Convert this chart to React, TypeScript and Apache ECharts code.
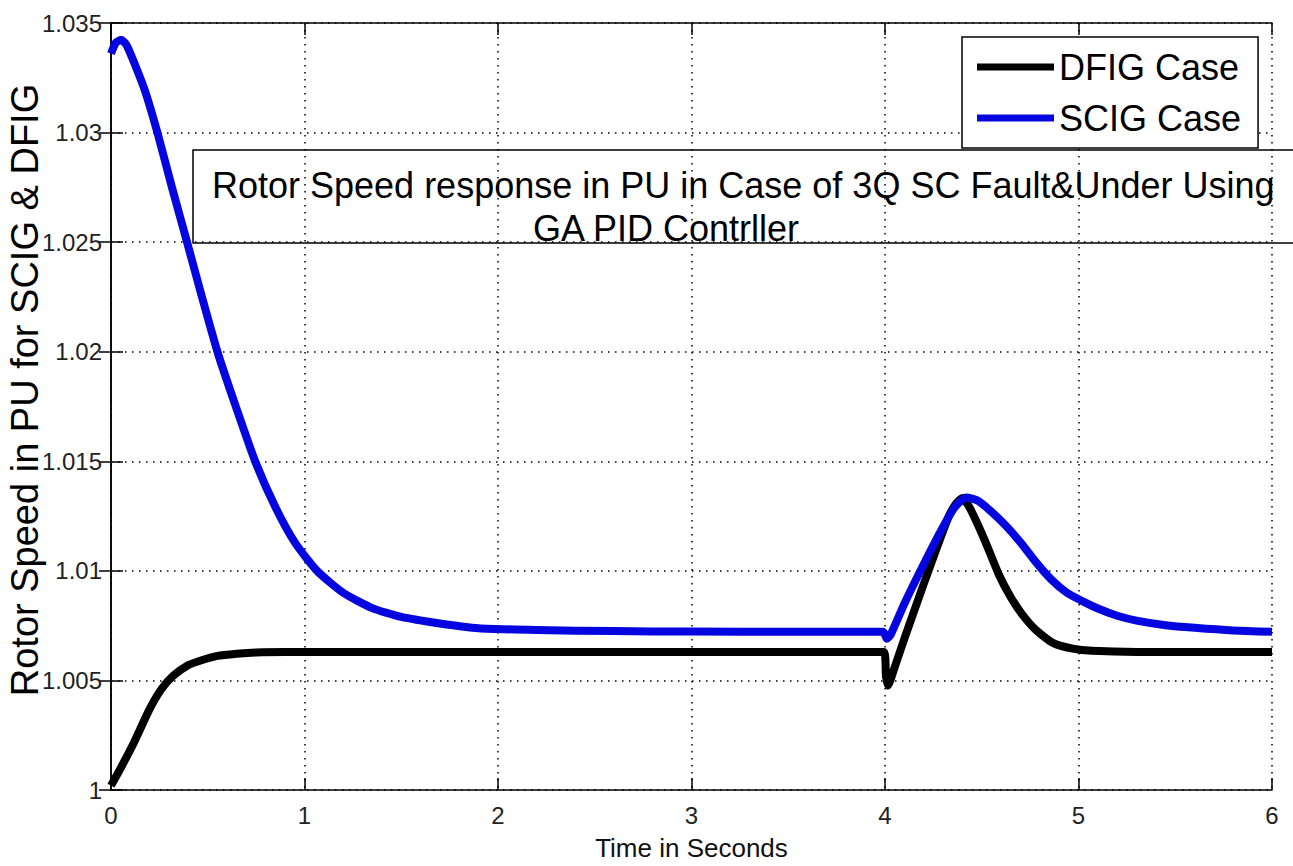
import React, { useEffect, useRef } from "react";
import * as echarts from "echarts";

const FONT = "'Liberation Sans', Arial, Helvetica, sans-serif";

const seriesNames = ["DFIG Case", "SCIG Case"];
const titleLines = [
  "Rotor Speed response in PU in Case of 3Q SC Fault&Under Using",
  "GA PID Contrller",
];
const yAxisTitle = "Rotor Speed in PU for SCIG & DFIG";
const xAxisTitle = "Time in Seconds";

const xMin = 0;
const xMax = 6;
const xStep = 1;
const yMin = 1;
const yMax = 1.035;
const yStep = 0.005;

const dfigTime = [
  0, 0.05, 0.115, 0.2, 0.26, 0.32, 0.4, 0.46, 0.55, 0.65, 0.75, 0.9, 1.2, 2, 3,
  3.995, 4.005, 4.015, 4.05, 4.1, 4.2, 4.27, 4.33, 4.37, 4.4, 4.43, 4.47, 4.52,
  4.59, 4.65, 4.71, 4.78, 4.87, 4.97, 5.07, 5.3, 5.6, 6.0,
];
const dfigSpeed = [
  1.0002, 1.001, 1.0021, 1.0037, 1.0046, 1.0052, 1.0057, 1.0059, 1.00612,
  1.00622, 1.00628, 1.0063, 1.0063, 1.0063, 1.0063, 1.0063, 1.0052, 1.00476,
  1.0056, 1.0069, 1.0094, 1.0111, 1.0125, 1.0131, 1.01332, 1.013, 1.0123,
  1.0113, 1.0098, 1.0088, 1.008, 1.0073, 1.0067, 1.00645, 1.00635, 1.0063,
  1.0063, 1.0063,
];

const scigTime = [
  0, 0.025, 0.052, 0.08, 0.124, 0.176, 0.24, 0.315, 0.393, 0.47, 0.55, 0.645,
  0.745, 0.85, 0.95, 1.065, 1.2, 1.35, 1.5, 1.7, 1.9, 2.2, 2.6, 3.0, 3.5, 3.99,
  4.01, 4.03, 4.1, 4.2, 4.3, 4.36, 4.42, 4.48, 4.55, 4.62, 4.7, 4.78, 4.86,
  4.94, 5.02, 5.1, 5.2, 5.3, 5.45, 5.6, 5.8, 6.0,
];
const scigSpeed = [
  1.0336, 1.0341, 1.03423, 1.034, 1.0331, 1.0319, 1.03, 1.0275, 1.025, 1.0225,
  1.02, 1.0175, 1.015, 1.0129, 1.0113, 1.01, 1.009, 1.0083, 1.0079, 1.0076,
  1.00738, 1.0073, 1.00725, 1.00723, 1.00722, 1.00722, 1.0069, 1.0071, 1.0085,
  1.0103, 1.012, 1.0129, 1.01335, 1.0132, 1.0127, 1.0121, 1.0113, 1.0104,
  1.0096, 1.009, 1.00862, 1.00828, 1.00795, 1.00773, 1.00752, 1.0074, 1.00728,
  1.00722,
];

const seriesColors = ["#000000", "#0505e0"];

function pairs(t: number[], v: number[]) {
  return t.map((x, i) => [x, v[i]]);
}

export default function App() {
  const ref = useRef<HTMLDivElement>(null);

  useEffect(() => {
    if (!ref.current) return;
    const chart = echarts.init(ref.current, undefined, { renderer: "svg" });

    const axisLine = { show: true, lineStyle: { color: "#000", width: 1.5 } };
    const axisTick = {
      show: true,
      inside: true,
      length: 12,
      lineStyle: { color: "#000", width: 1.5 },
    };
    const splitLine = {
      show: true,
      lineStyle: { color: "#000", width: 1.5, type: [1.5, 5.5] as any },
    };

    chart.setOption({
      animation: false,
      backgroundColor: "#ffffff",
      grid: { left: 111, right: 21, top: 23, bottom: 71, containLabel: false },
      legend: {
        data: seriesNames,
        orient: "vertical",
        left: 962,
        top: 37,
        padding: [12, 17, 12, 15],
        itemGap: 15,
        itemWidth: 77,
        itemHeight: 7,
        itemTextGap: 9,
        icon: "rect",
        backgroundColor: "#ffffff",
        borderColor: "#000",
        borderWidth: 1.5,
        borderRadius: 0,
        textStyle: { fontSize: 36, color: "#000", fontFamily: FONT },
      },
      xAxis: [
        {
          type: "value",
          position: "bottom",
          min: xMin,
          max: xMax,
          interval: xStep,
          axisLine,
          axisTick,
          splitLine,
          axisLabel: {
            color: "#222",
            fontSize: 24,
            margin: 13,
            fontFamily: FONT,
          },
          name: xAxisTitle,
          nameLocation: "middle",
          nameGap: 45,
          nameTextStyle: { fontSize: 26, color: "#111", fontFamily: FONT },
        },
        {
          type: "value",
          position: "top",
          min: xMin,
          max: xMax,
          interval: xStep,
          axisLine,
          axisTick,
          splitLine: { show: false },
          axisLabel: { show: false },
        },
      ],
      yAxis: [
        {
          type: "value",
          position: "left",
          min: yMin,
          max: yMax,
          interval: yStep,
          axisLine,
          axisTick,
          splitLine,
          axisLabel: {
            color: "#222",
            fontSize: 24,
            margin: 9,
            fontFamily: FONT,
            formatter: (v: number) => String(Number(v.toFixed(3))),
          },
        },
        {
          type: "value",
          position: "right",
          min: yMin,
          max: yMax,
          interval: yStep,
          axisLine,
          axisTick,
          splitLine: { show: false },
          axisLabel: { show: false },
        },
      ],
      series: [
        {
          name: seriesNames[0],
          type: "line",
          xAxisIndex: 0,
          yAxisIndex: 0,
          data: pairs(dfigTime, dfigSpeed),
          symbol: "none",
          smooth: 0.2,
          color: seriesColors[0],
          lineStyle: { width: 8, color: seriesColors[0], join: "round" },
          z: 3,
        },
        {
          name: seriesNames[1],
          type: "line",
          xAxisIndex: 0,
          yAxisIndex: 0,
          data: pairs(scigTime, scigSpeed),
          symbol: "none",
          smooth: 0.2,
          color: seriesColors[1],
          lineStyle: { width: 8, color: seriesColors[1], join: "round" },
          z: 4,
        },
      ],
      graphic: [
        {
          type: "rect",
          shape: { x: 193, y: 150, width: 1130, height: 93 },
          style: { fill: "none", stroke: "#000", lineWidth: 1.5 },
          z: 10,
        },
        {
          type: "text",
          x: 212,
          y: 185,
          style: {
            text: titleLines[0],
            fontSize: 36,
            fontFamily: FONT,
            fill: "#000",
            textAlign: "left",
            textVerticalAlign: "middle",
          },
          z: 11,
        },
        {
          type: "text",
          x: 533,
          y: 228,
          style: {
            text: titleLines[1],
            fontSize: 36,
            fontFamily: FONT,
            fill: "#000",
            textAlign: "left",
            textVerticalAlign: "middle",
          },
          z: 11,
        },
        {
          type: "text",
          x: 25,
          y: 390,
          rotation: Math.PI / 2,
          style: {
            text: yAxisTitle,
            fontSize: 38,
            fontFamily: FONT,
            fill: "#000",
            textAlign: "center",
            textVerticalAlign: "middle",
          },
          z: 11,
        },
      ],
    });

    return () => chart.dispose();
  }, []);

  return (
    <div
      ref={ref}
      style={{
        position: "absolute",
        left: 0,
        top: 0,
        width: 1293,
        height: 866,
        background: "#fff",
      }}
    />
  );
}
